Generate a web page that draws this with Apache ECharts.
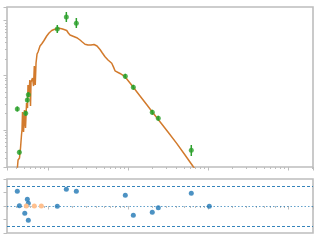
<!DOCTYPE html>
<html><head><meta charset="utf-8">
<script src="https://cdn.jsdelivr.net/npm/echarts@6/dist/echarts.min.js"></script>
<style>html,body{margin:0;padding:0;background:#fff}#c{width:320px;height:240px}</style>
</head><body><div id="c"></div>
<script>
// model spectrum (x, y)
const modelX = [0.410,0.422,0.440,0.453,0.466,0.473,0.480,0.494,0.508,0.523,0.539,0.554,0.562,0.579,0.592,0.604,0.613,0.640,0.659,0.674,0.692,0.708,0.729,0.750,0.794,0.841,0.891,0.963,1.029,1.112,1.189,1.285,1.372,1.483,1.585,1.713,1.794,1.884,1.995,2.285,2.512,2.661,2.900,3.162,3.447,3.758,4.098,4.467,4.732,5.158,5.623,6.26,6.55,6.88,7.94,9.17,10.59,11.65,14.13,17.28,20.7,25.1,31.6,40.6,51.6,65.5,75.0];
const modelY = [0.171,0.283,0.308,0.469,0.811,1.0,2.13,0.919,2.32,1.09,3.12,2.52,6.65,4.36,8.20,2.75,7.55,8.93,6.37,14.8,6.65,16.8,24.5,26.7,34.3,38.1,43.3,52.3,59.3,65.9,68.7,71.1,72.3,71.1,68.7,65.9,59.3,54.5,51.9,48.7,44.2,41.1,36.9,35.8,35.8,36.6,34.3,29.6,26.1,21.9,19.05,16.6,14.4,12.1,10.8,9.43,7.23,6.04,4.19,2.86,2.02,1.42,0.919,0.571,0.349,0.213,0.164];
// photometry points
const photX = [0.413,0.438,0.526,0.551,0.567,1.306,1.694,2.259,9.25,11.65,20.1,23.9,61.8];
const photY = [2.42,0.391,2.02,3.54,4.42,70.2,116.4,89.3,9.59,6.04,2.11,1.64,0.425];
const photYLo = [2.18,0.352,1.82,3.19,3.98,59.3,94.3,73.2,8.63,5.44,1.90,1.48,0.335];
const photYHi = [2.69,0.434,2.24,3.93,4.91,83.1,143.6,111.6,10.65,6.71,2.34,1.82,0.532];
// residuals
const residX = [0.413,0.438,0.512,0.551,0.567,0.567,1.306,1.694,2.259,9.25,11.65,20.1,23.9,61.8,103.8];
const residY = [2.18,0.04,-1.08,0.99,0.40,-2.12,-0.04,2.47,2.18,1.59,-1.38,-0.93,-0.25,1.88,-0.04];
const limitX = [0.535,0.674,0.825];
const limitY = [0,0,0];
const xRange = [0.307, 2054];
const yRange = [0.211, 177.3];
const residRange = [-4, 4];
const residStep = 2;
const residBand = [3, -3];
const residZero = 0;

const gray = '#bdbdbd';
function logX(gi){return {type:'log',logBase:10,gridIndex:gi,min:xRange[0],max:xRange[1],
  axisLine:{show:false},axisLabel:{show:false},splitLine:{show:false},
  axisTick:{show:true,length:3.5,lineStyle:{color:gray,width:1}},
  minorTick:{show:true,splitNumber:9,length:2,lineStyle:{color:gray,width:1}},minorSplitLine:{show:false}};}

const chart = echarts.init(document.getElementById('c'), null, {renderer:'canvas'});
chart.setOption({
  animation:false,
  backgroundColor:'#fff',
  grid:[
    {left:7,right:7,top:7,height:160,show:true,borderColor:gray,borderWidth:1.6,backgroundColor:'transparent'},
    {left:7,right:7,top:179,height:54,show:true,borderColor:gray,borderWidth:1.6,backgroundColor:'transparent'}
  ],
  xAxis:[logX(0),logX(1)],
  yAxis:[
    {type:'log',logBase:10,gridIndex:0,min:yRange[0],max:yRange[1],
     axisLine:{show:false},axisLabel:{show:false},splitLine:{show:false},
     axisTick:{show:true,length:3.5,lineStyle:{color:gray,width:1}},
     minorTick:{show:true,splitNumber:9,length:2,lineStyle:{color:gray,width:1}},minorSplitLine:{show:false}},
    {type:'value',gridIndex:1,min:residRange[0],max:residRange[1],interval:residStep,
     axisLine:{show:false},axisLabel:{show:false},splitLine:{show:false},
     axisTick:{show:true,length:3.5,lineStyle:{color:gray,width:1}}}
  ],
  series:[
    {type:'line',xAxisIndex:0,yAxisIndex:0,data:modelX.map((x,i)=>[x,modelY[i]]),
     showSymbol:false,symbol:'none',lineStyle:{color:'#d27a2c',width:1.5},clip:true,z:2},
    {type:'custom',xAxisIndex:0,yAxisIndex:0,z:3,
     data:photX.map((x,i)=>[x,photYLo[i],photYHi[i]]),
     renderItem:function(params,api){
       const a=api.coord([api.value(0),api.value(1)]);
       const b=api.coord([api.value(0),api.value(2)]);
       return {type:'line',shape:{x1:a[0],y1:a[1],x2:b[0],y2:b[1]},style:{stroke:'#2ca02c',lineWidth:1.5}};
     }},
    {type:'scatter',xAxisIndex:0,yAxisIndex:0,z:4,data:photX.map((x,i)=>[x,photY[i]]),
     symbolSize:5,itemStyle:{color:'#2ca02c'}},
    {type:'scatter',xAxisIndex:1,yAxisIndex:1,z:5,data:residX.map((x,i)=>[x,residY[i]]),
     symbolSize:5,itemStyle:{color:'#1f77b4'},
     markLine:{silent:true,symbol:'none',label:{show:false},animation:false,
       data:[
         {yAxis:residBand[0],lineStyle:{color:'#1f77b4',type:[3,2],width:1.1,opacity:0.9}},
         {yAxis:residZero,lineStyle:{color:'#1f77b4',type:[1.5,2],width:1.1,opacity:0.7}},
         {yAxis:residBand[1],lineStyle:{color:'#1f77b4',type:[3,2],width:1.1,opacity:0.9}}
       ]}},
    {type:'scatter',xAxisIndex:1,yAxisIndex:1,z:8,data:limitX.map((x,i)=>[x,limitY[i]]),
     symbolSize:5,itemStyle:{color:'#ffc08e',opacity:1}}
  ]
});
</script></body></html>
